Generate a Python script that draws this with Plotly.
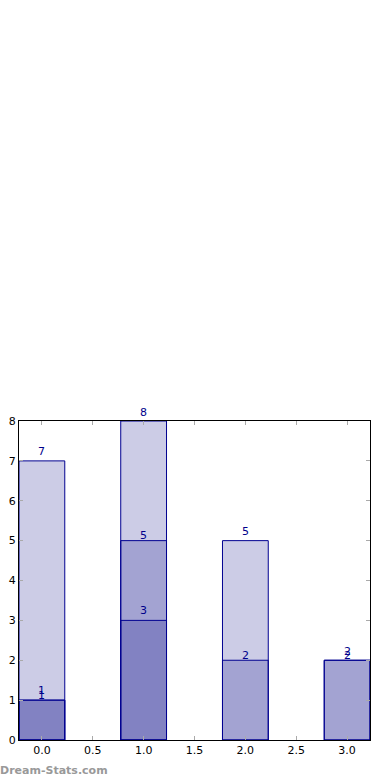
import plotly.graph_objects as go

x = [0, 1, 2, 3]
series_a = [7, 8, 5, 2]
series_b = [1, 5, 2, 2]
series_c = [1, 3, None, None]
xticks = [0.0, 0.5, 1.0, 1.5, 2.0, 2.5, 3.0]
yticks = [0, 1, 2, 3, 4, 5, 6, 7, 8]

fill = "rgba(0,0,128,0.2)"
edge = "#000090"
label_color = "#00008B"

fig = go.Figure()
annotations = []
for vals, shift in [(series_a, 9), (series_b, 5), (series_c, 10)]:
    xs = [xi for xi, v in zip(x, vals) if v is not None]
    ys = [v for v in vals if v is not None]
    fig.add_trace(go.Bar(x=xs, y=ys, width=0.45, marker=dict(color=fill, line=dict(color=edge, width=1)),
                         showlegend=False, hoverinfo="skip"))
    for xi, v in zip(xs, ys):
        annotations.append(dict(x=xi, y=v, text=str(v), showarrow=False, xref="x", yref="y",
                                yanchor="middle", yshift=shift,
                                font=dict(color=label_color, size=11, family="DejaVu Sans")))

annotations.append(dict(x=0, y=0, xref="paper", yref="paper", xanchor="left", yanchor="middle",
                        xshift=-21, yshift=-30, text="<b>Dream-Stats.com</b>", showarrow=False,
                        font=dict(color="#999999", size=11, family="DejaVu Sans")))

fig.update_layout(
    barmode="overlay",
    width=390, height=780,
    margin=dict(l=19, r=20, t=421, b=40, autoexpand=False),
    paper_bgcolor="white", plot_bgcolor="white",
    font=dict(family="DejaVu Sans", size=11, color="black"),
    annotations=annotations,
    xaxis=dict(range=[-0.225, 3.225], tickvals=xticks, ticktext=[f"{t:.1f}" for t in xticks],
               showgrid=False, zeroline=False, showline=True, linecolor="black", linewidth=1,
               mirror="ticks", ticks="inside", ticklen=4, tickcolor="#aaaaaa", tickwidth=1,
               automargin=False),
    yaxis=dict(range=[0, 8], tickvals=yticks, showgrid=False, zeroline=False, showline=True,
               linecolor="black", linewidth=1, mirror="ticks", ticks="inside", ticklen=4,
               tickcolor="#aaaaaa", tickwidth=1, ticklabelstandoff=0, automargin=False),
)

fig.write_html("out.html")
